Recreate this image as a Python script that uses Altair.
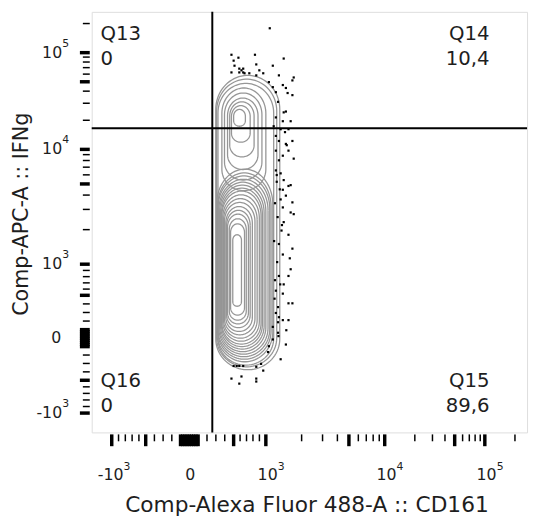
import altair as alt
import numpy as np
import pandas as pd

# ---- biexponential display scale (channel positions 0-1000) ----
linear_values = [-1000, -500, 0, 500, 1000]
linear_positions = [46, 124, 224, 326, 400]
decade_exponents = [3, 4, 5, 6]
decade_positions = [400, 673, 903, 1133]

label_values = [-1000, 0, 1000, 10000, 100000]
label_bases = ["-10", "0", "10", "10", "10"]
label_exps = ["3", "", "3", "4", "5"]
major_tick_values = [-1000, -500, -100, -75, -50, -25, 0, 25, 50, 75, 100,
                     500, 1000, 5000, 10000, 50000, 100000]
minor_tick_values = [-900, -800, -700, -600, -400, -300, -200,
                     200, 300, 400, 600, 700, 800, 900,
                     2000, 3000, 4000, 6000, 7000, 8000, 9000,
                     20000, 30000, 40000, 60000, 70000, 80000, 90000, 200000]

# ---- quadrant gate (display positions) and statistics ----
gate_x = 277
gate_y = 723
quad_names = ["Q13", "Q14", "Q15", "Q16"]
quad_values = ["0", "10,4", "89,6", "0"]

# ---- contour levels (display positions of each closed level) ----
ring_left = [285, 287, 290,
             299, 305, 312, 317, 321, 326,
             287, 289, 290, 292, 294, 296, 298, 299, 301, 303, 305, 308, 310, 312, 316, 319, 324]
ring_right = [432, 425, 418,
              400, 391, 382, 373, 364, 353,
              416, 412, 409, 405, 400, 396, 392, 389, 385, 380, 375, 369, 364, 360, 355, 351, 344]
ring_top = [849, 840, 830,
            819, 807, 795, 786, 777, 768,
            626, 617, 610, 602, 595, 588, 581, 574, 565, 556, 547, 537, 528, 519, 508, 496, 470]
ring_bottom = [149, 156, 160,
               575, 600, 625, 655, 690, 728,
               168, 174, 180, 186, 192, 198, 204, 210, 217, 224, 232, 240, 249, 258, 267, 279, 300]
ring_cap_top = [1.1] * 3 + [1.2] * 6 + [1.3] * 17
ring_cap_bottom = [1.0] * 3 + [1.0] * 6 + [1.1] * 17

# ---- outlier events drawn as dots (display positions) ----
dot_x = [409, 321, 337, 375, 441, 326, 328, 344, 339, 348,
         339, 348, 321, 351, 362, 378, 416, 385, 394, 378,
         430, 464, 461, 407, 416, 423, 439, 446, 450, 461,
         428, 446, 441, 423, 439, 457, 418, 434, 452, 423,
         430, 446, 461, 423, 439, 452, 464, 430, 423, 434,
         441, 457, 439, 446, 434, 452, 461, 439, 457, 464,
         441, 452, 461, 439, 457, 430, 452, 423, 439, 452,
         461, 428, 423, 430, 439, 452, 416, 428, 416, 446,
         407, 405, 434, 389, 326, 333, 339, 348, 378, 321,
         344, 339, 378, 394, 378, 425, 432, 421, 427, 436,
         419, 426, 433, 420, 428, 444, 448, 425, 437, 430,
         455, 421, 441, 429, 447]
dot_y = [961, 898, 891, 898, 889, 884, 872, 861, 865, 865,
         856, 856, 856, 854, 854, 875, 872, 861, 854, 849,
         849, 844, 837, 833, 821, 809, 826, 819, 807, 802,
         786, 763, 761, 749, 740, 740, 728, 721, 721, 705,
         693, 686, 693, 670, 658, 670, 651, 647, 623, 616,
         600, 588, 577, 563, 554, 586, 547, 535, 523, 519,
         500, 470, 437, 423, 388, 372, 372, 337, 330, 307,
         307, 298, 284, 274, 267, 267, 251, 237, 221, 209,
         205, 191, 174, 163, 158, 158, 158, 158, 156, 128,
         133, 116, 128, 147, 121, 612, 578, 545, 512, 480,
         455, 405, 352, 318, 262, 714, 683, 596, 493, 448,
         414, 362, 352, 229, 243]


def biex(v):
    v = float(v)
    if abs(v) <= 1000:
        return float(np.interp(v, linear_values, linear_positions))
    return float(np.interp(np.log10(v), decade_exponents, decade_positions))


FONT = "DejaVu Sans"
TXT = "#1e1e1e"
W, H = 442, 427

xs = alt.Scale(domain=[0, 1000], nice=False, zero=False)
ys = alt.Scale(domain=[0, 1000], nice=False, zero=False)

x_axis = alt.Axis(labels=False, ticks=False, domain=False, grid=False,
                  title="Comp-Alexa Fluor 488-A :: CD161", titleFont=FONT, titleFontSize=22,
                  titleFontWeight="normal", titleColor=TXT, titleX=218, titleY=80,
                  titleBaseline="alphabetic", titleAlign="center")
y_axis = alt.Axis(labels=False, ticks=False, domain=False, grid=False,
                  title="Comp-APC-A :: IFNg", titleFont=FONT, titleFontSize=21,
                  titleFontWeight="normal", titleColor=TXT, titleX=-65, titleY=205,
                  titleAngle=270, titleBaseline="alphabetic", titleAlign="center")


def X(field):
    return alt.X(f"{field}:Q", scale=xs, axis=x_axis)


def Y(field):
    return alt.Y(f"{field}:Q", scale=ys, axis=y_axis)


# contour rings
rows = []
for k, (l, r, t, b, ct, cb) in enumerate(zip(ring_left, ring_right, ring_top, ring_bottom,
                                             ring_cap_top, ring_cap_bottom)):
    cx = (l + r) / 2
    hw = (r - l) / 2
    capT, capB = ct * hw, cb * hw
    span = t - b
    if capT + capB > span:
        s = span / (capT + capB)
        capT *= s
        capB *= s
    th1 = np.linspace(0, np.pi, 40)
    th2 = np.linspace(np.pi, 2 * np.pi, 40)
    xs_pts = np.concatenate([cx + hw * np.cos(th1), cx + hw * np.cos(th2), [cx + hw]])
    ys_pts = np.concatenate([t - capT + capT * np.sin(th1), b + capB + capB * np.sin(th2),
                             [t - capT]])
    for i, (px, py) in enumerate(zip(xs_pts, ys_pts)):
        rows.append({"ring": k, "idx": i, "x": px, "y": py})
rings_df = pd.DataFrame(rows)

contours = alt.Chart(rings_df).mark_line(color="#969696", strokeWidth=1.3).encode(
    x=X("x"), y=Y("y"), detail="ring:N", order="idx:Q")

dots_df = pd.DataFrame({"x": dot_x, "y": dot_y})
dots = alt.Chart(dots_df).mark_square(size=5, color="black", opacity=1).encode(
    x=X("x"), y=Y("y"))

vgate = alt.Chart(pd.DataFrame({"x": [gate_x]})).mark_rule(color="black", strokeWidth=2).encode(x=X("x"))
hgate = alt.Chart(pd.DataFrame({"y": [gate_y]})).mark_rule(color="black", strokeWidth=2).encode(y=Y("y"))

maj_df = pd.DataFrame({"x": [biex(v) for v in major_tick_values]})
min_df = pd.DataFrame({"x": [biex(v) for v in minor_tick_values]})
maj_dfy = maj_df.rename(columns={"x": "y"})
min_dfy = min_df.rename(columns={"x": "y"})

xt_major = alt.Chart(maj_df).mark_rule(color="black", strokeWidth=3.5).encode(
    x=X("x"), y=alt.value(H + 2), y2=alt.value(H + 14))
xt_minor = alt.Chart(min_df).mark_rule(color="black", strokeWidth=1.5).encode(
    x=X("x"), y=alt.value(H + 2), y2=alt.value(H + 9))
yt_major = alt.Chart(maj_dfy).mark_rule(color="black", strokeWidth=3.5).encode(
    y=Y("y"), x=alt.value(-2), x2=alt.value(-12))
yt_minor = alt.Chart(min_dfy).mark_rule(color="black", strokeWidth=1.5).encode(
    y=Y("y"), x=alt.value(-2), x2=alt.value(-9))

# tick labels: base number plus raised exponent
lab_df = pd.DataFrame({"pos": [biex(v) for v in label_values],
                       "base": label_bases, "exp": label_exps})
lab_pow = lab_df[lab_df["exp"] != ""].copy()
lab_zero = lab_df[lab_df["exp"] == ""].copy()

xl_base = alt.Chart(lab_pow).mark_text(align="right", baseline="alphabetic", dx=12,
                                       font=FONT, fontSize=16, color=TXT).encode(
    x=X("pos"), y=alt.value(H + 48), text="base:N")
xl_exp = alt.Chart(lab_pow).mark_text(align="left", baseline="alphabetic", dx=12,
                                      font=FONT, fontSize=11, color=TXT).encode(
    x=X("pos"), y=alt.value(H + 38), text="exp:N")
xl_zero = alt.Chart(lab_zero).mark_text(align="center", baseline="alphabetic", dx=1,
                                        font=FONT, fontSize=16, color=TXT).encode(
    x=X("pos"), y=alt.value(H + 48), text="base:N")

lab_powy = lab_pow.rename(columns={"pos": "posy"})
lab_zeroy = lab_zero.rename(columns={"pos": "posy"})
yl_base = alt.Chart(lab_powy).mark_text(align="right", baseline="middle",
                                        font=FONT, fontSize=16, color=TXT).encode(
    y=Y("posy"), x=alt.value(-30), text="base:N")
yl_exp = alt.Chart(lab_powy).mark_text(align="left", baseline="middle", dy=-9,
                                       font=FONT, fontSize=11, color=TXT).encode(
    y=Y("posy"), x=alt.value(-30), text="exp:N")
yl_zero = alt.Chart(lab_zeroy).mark_text(align="right", baseline="middle",
                                         font=FONT, fontSize=16, color=TXT).encode(
    y=Y("posy"), x=alt.value(-31), text="base:N")


def qlabel(i, xpos, ypos, align):
    df = pd.DataFrame({"t": [f"{quad_names[i]}\n{quad_values[i]}"]})
    return alt.Chart(df).mark_text(align=align, baseline="alphabetic", font=FONT, fontSize=20,
                                   color=TXT, lineBreak="\n", lineHeight=25).encode(
        text="t:N", x=alt.value(xpos), y=alt.value(ypos))


labels = [qlabel(0, 9, 29, "left"), qlabel(1, 404, 29, "right"),
          qlabel(2, 404, 381, "right"), qlabel(3, 9, 381, "left")]

chart = alt.layer(contours, dots, vgate, hgate, xt_major, xt_minor, yt_major, yt_minor,
                  xl_base, xl_exp, xl_zero, yl_base, yl_exp, yl_zero,
                  *labels).properties(
    width=W, height=H, autosize="none",
    padding={"left": 85, "top": 0, "right": 3, "bottom": 85},
).configure_view(stroke="#9a9a9a", strokeWidth=1.5).configure(background="white")

chart.save("out.html", embed_options={"renderer": "svg", "actions": False})
